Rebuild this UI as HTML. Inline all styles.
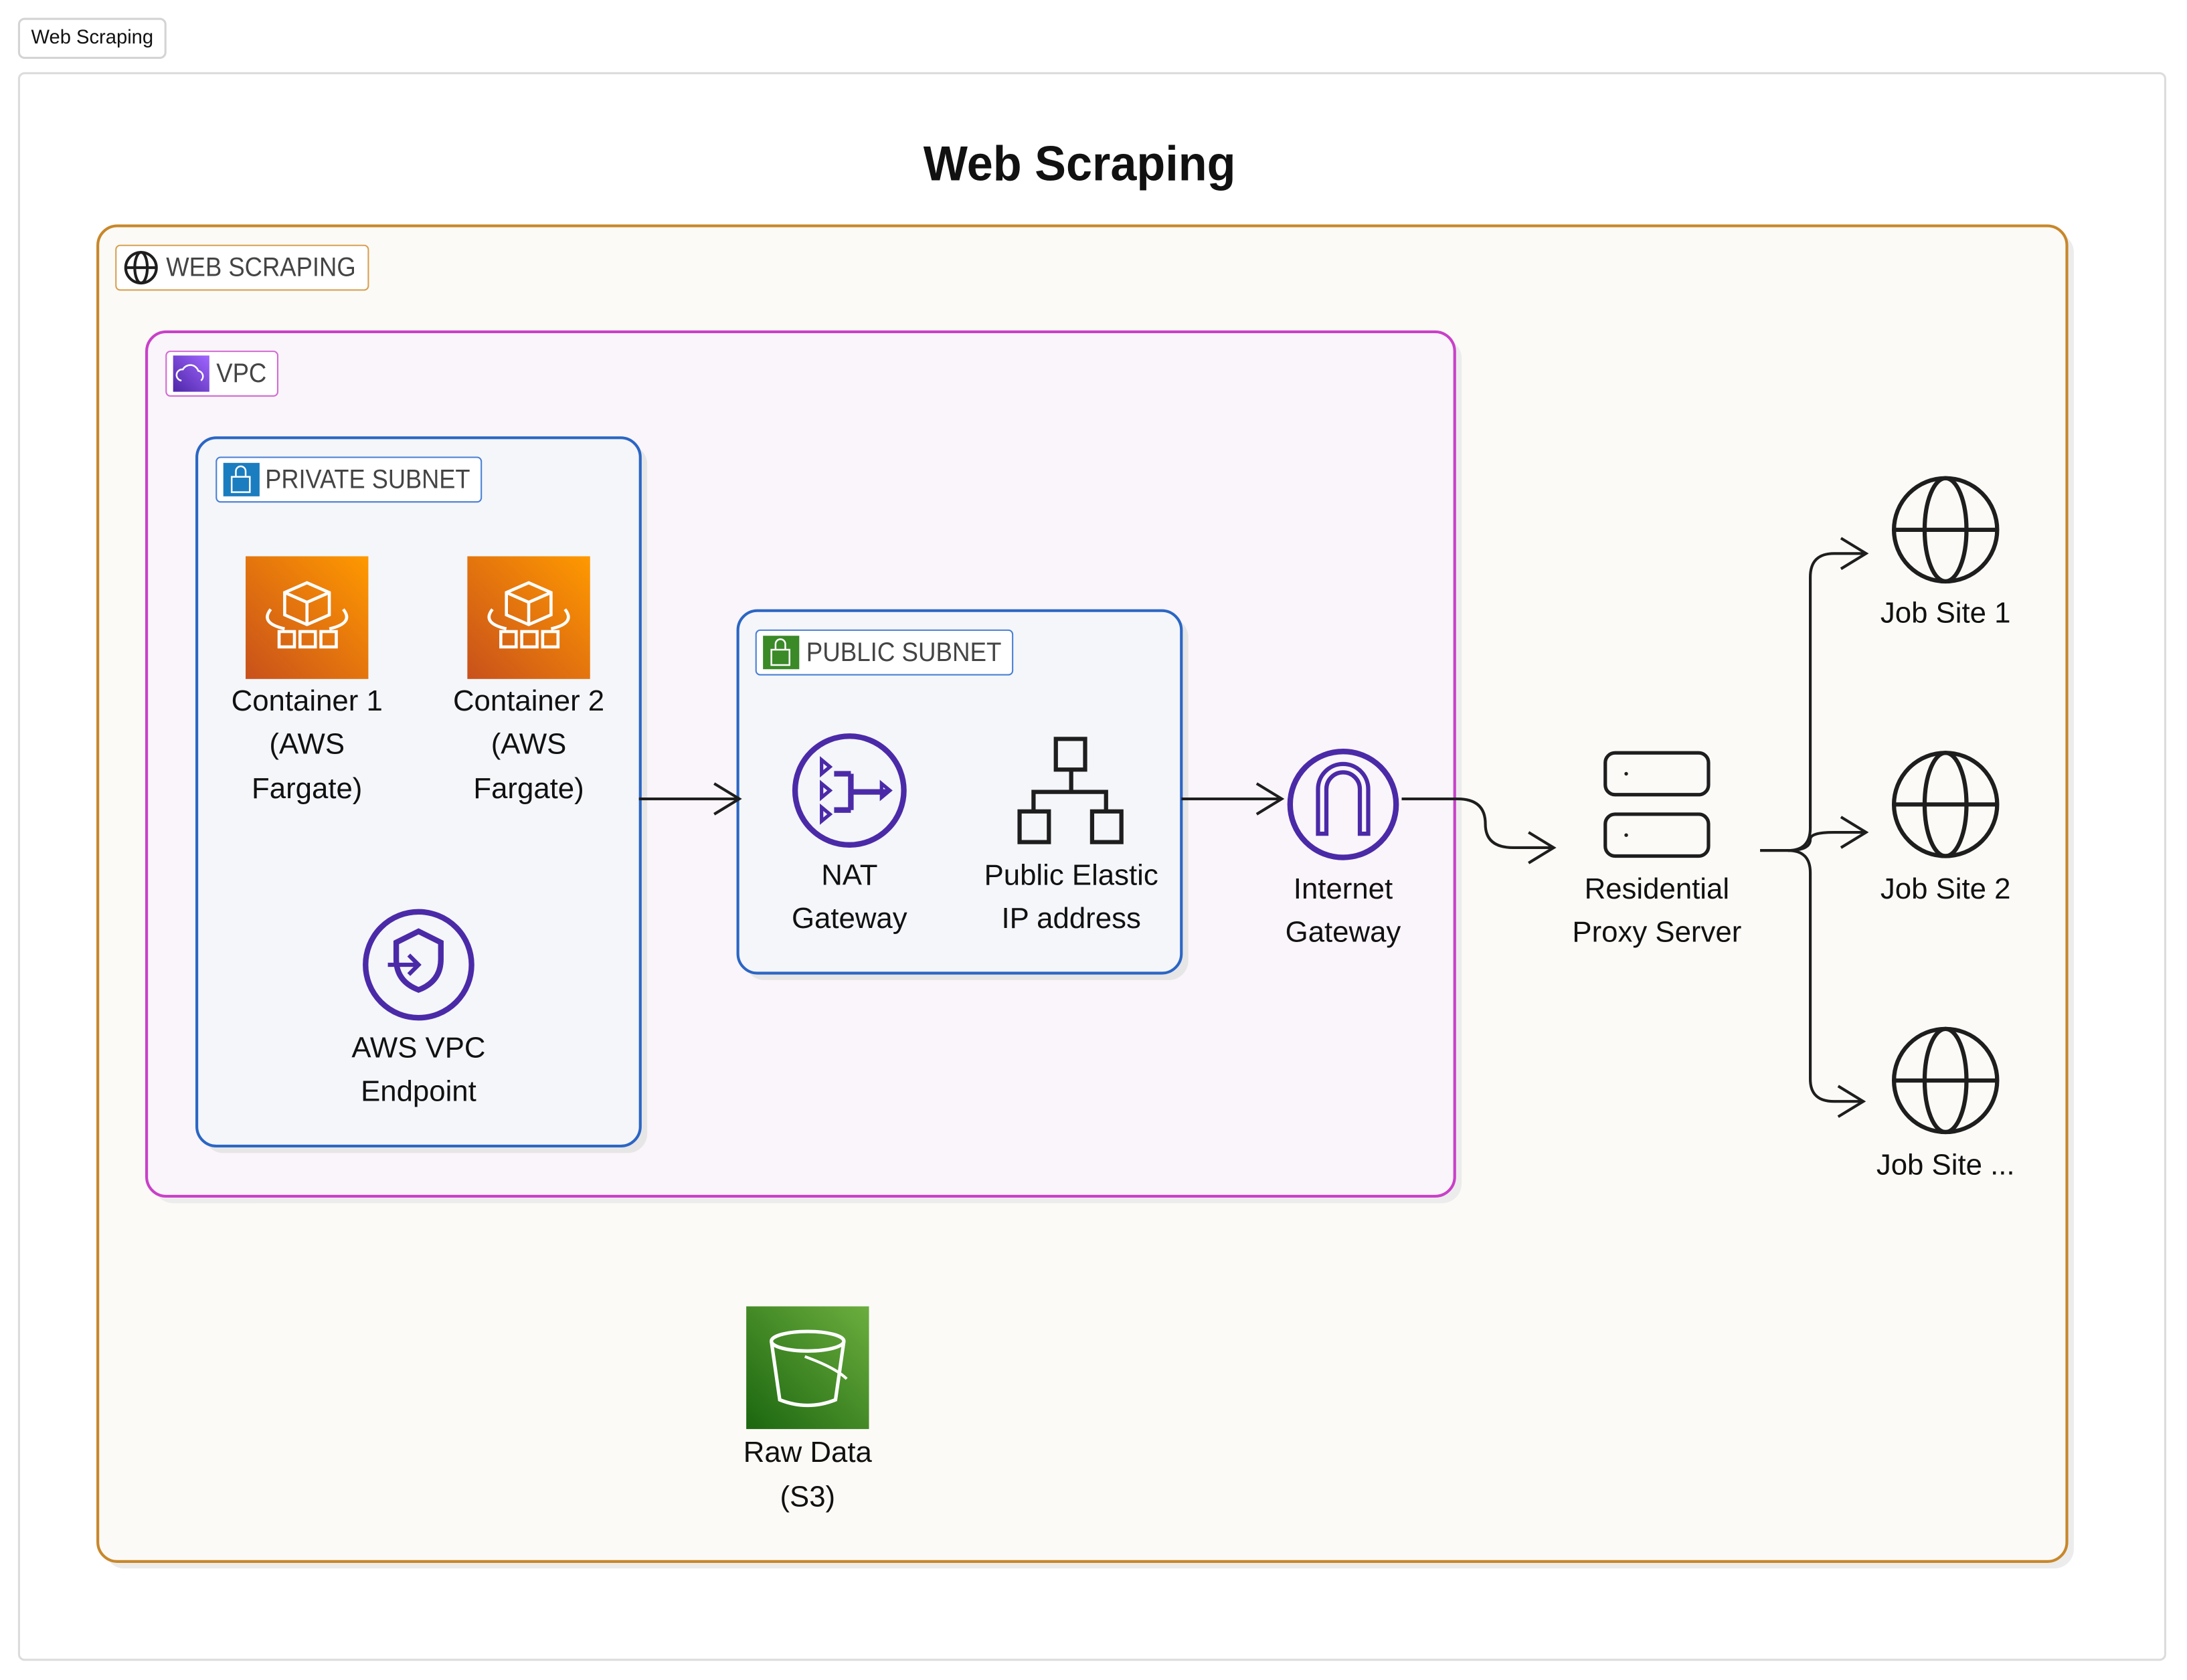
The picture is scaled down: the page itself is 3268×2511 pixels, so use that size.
<!DOCTYPE html>
<html><head><meta charset="utf-8"><style>
html,body{margin:0;padding:0;background:#fff;width:3268px;height:2511px;overflow:hidden}
svg{display:block}
text{font-family:"Liberation Sans",sans-serif}
</style></head><body>
<svg width="3268" height="2511" viewBox="0 0 1568 1205" xmlns="http://www.w3.org/2000/svg">
<defs>
<linearGradient id="og" x1="0" y1="1" x2="1" y2="0"><stop offset="0" stop-color="#c8511b"/><stop offset="1" stop-color="#ff9900"/></linearGradient>
<linearGradient id="gg" x1="0" y1="1" x2="1" y2="0"><stop offset="0" stop-color="#1b660f"/><stop offset="1" stop-color="#6cae3e"/></linearGradient>
<linearGradient id="pg" x1="0" y1="1" x2="1" y2="0"><stop offset="0" stop-color="#4d27a8"/><stop offset="1" stop-color="#a166ff"/></linearGradient>
<g id="globe" fill="none" stroke="#1e1e1e" stroke-width="3"><circle r="37"/><ellipse rx="15" ry="37"/><line x1="-37" y1="0" x2="37" y2="0"/></g>
<g id="cube" fill="none" stroke="#fff" stroke-width="2.2"><path d="M-16,-20 l16,-7 l16,7 v16 l-16,7 l-16,-7z M-16,-20 l16,7 l16,-7 M0,-13 v16"/><path d="M-26,-8 q-8,10 10,14 M26,-8 q8,10 -10,14"/><rect x="-20" y="8" width="11" height="11"/><rect x="-5" y="8" width="11" height="11"/><rect x="10" y="8" width="11" height="11"/></g>
</defs>
<rect x="13.5" y="13.5" width="105" height="28" rx="4" fill="#fff" stroke="#d4d4d4" stroke-width="1.5"/>
<text x="66" y="27.5" font-size="14" text-anchor="middle" dominant-baseline="middle" fill="#111">Web Scraping</text>
<rect x="13.5" y="52.5" width="1539" height="1138" rx="4" fill="#fff" stroke="#dcdcdc" stroke-width="1.5"/>
<text x="774" y="120" font-size="35" font-weight="bold" text-anchor="middle" dominant-baseline="middle" fill="#111" textLength="224" lengthAdjust="spacingAndGlyphs">Web Scraping</text>

<rect x="75" y="167" width="1412" height="958" rx="14" fill="#ececec"/>
<rect x="70" y="162" width="1412" height="958" rx="14" fill="#fbfaf6" stroke="#c8872a" stroke-width="2"/>
<rect x="83" y="176" width="181" height="32" rx="3" fill="#fff" stroke="#d9a052" stroke-width="1"/>
<g transform="translate(101,192)"><g fill="none" stroke="#1e1e1e" stroke-width="2"><circle r="11"/><ellipse rx="4.5" ry="11"/><line x1="-11" x2="11"/></g></g>
<text x="119" y="193" font-size="19" dominant-baseline="middle" fill="#444" textLength="136" lengthAdjust="spacingAndGlyphs">WEB SCRAPING</text>

<rect x="110" y="243" width="938" height="620" rx="14" fill="#ececec"/>
<rect x="105" y="238" width="938" height="620" rx="14" fill="#faf5fa" stroke="#c940c9" stroke-width="2"/>
<rect x="119" y="252" width="80" height="32" rx="3" fill="#fff" stroke="#d46ad4" stroke-width="1"/>
<rect x="124" y="255" width="26" height="26" fill="url(#pg)"/>
<path d="M130,273 a4,4 0 0 1 1,-8 a6,6 0 0 1 11,1 a4,4 0 0 1 2,7" fill="none" stroke="#fff" stroke-width="1.2"/>
<text x="155" y="269" font-size="19" dominant-baseline="middle" fill="#444" textLength="36" lengthAdjust="spacingAndGlyphs">VPC</text>

<rect x="146" y="319" width="318" height="508" rx="14" fill="#e6e6e6"/>
<rect x="141" y="314" width="318" height="508" rx="14" fill="#f4f6fa" stroke="#2b66c4" stroke-width="2"/>
<rect x="155" y="328" width="190" height="32" rx="3" fill="#fff" stroke="#4a7fd4" stroke-width="1"/>
<rect x="160" y="332" width="26" height="24" fill="#1a7dbf"/>
<g fill="none" stroke="#fff" stroke-width="1.2"><rect x="166" y="342" width="13" height="11"/><path d="M169,342 v-4 a3.5,3.5 0 0 1 7,0 v4"/></g>
<text x="190" y="345" font-size="19" dominant-baseline="middle" fill="#444" textLength="147" lengthAdjust="spacingAndGlyphs">PRIVATE SUBNET</text>

<rect x="176" y="399" width="88" height="88" fill="url(#og)"/>
<use href="#cube" transform="translate(220,445)"/>
<rect x="335" y="399" width="88" height="88" fill="url(#og)"/>
<use href="#cube" transform="translate(379,445)"/>

<g fill="none" stroke="#4b2aa8" stroke-width="4">
<circle cx="300" cy="692" r="38"/>
<path d="M284,676 l16,-8 l16,8 v12 q0,16 -16,22 q-16,-6 -16,-22z"/>
<path d="M278,692 h22 m-7,-7 l7,7 l-7,7" stroke-width="3"/>
</g>

<rect x="534" y="443" width="318" height="260" rx="14" fill="#e6e6e6"/>
<rect x="529" y="438" width="318" height="260" rx="14" fill="#f4f6fa" stroke="#2b66c4" stroke-width="2"/>
<rect x="542" y="452" width="184" height="32" rx="3" fill="#fff" stroke="#4a7fd4" stroke-width="1"/>
<rect x="547" y="456" width="26" height="24" fill="#3a8a28"/>
<g fill="none" stroke="#fff" stroke-width="1.2"><rect x="553" y="466" width="13" height="11"/><path d="M556,466 v-4 a3.5,3.5 0 0 1 7,0 v4"/></g>
<text x="578" y="469" font-size="19" dominant-baseline="middle" fill="#444" textLength="140" lengthAdjust="spacingAndGlyphs">PUBLIC SUBNET</text>

<g font-size="21" text-anchor="middle" dominant-baseline="middle" fill="#111">
<text x="220" y="504">Container 1</text><text x="220" y="535">(AWS</text><text x="220" y="567">Fargate)</text>
<text x="379" y="504">Container 2</text><text x="379" y="535">(AWS</text><text x="379" y="567">Fargate)</text>
<text x="300" y="753">AWS VPC</text><text x="300" y="784">Endpoint</text>
<text x="609" y="629">NAT</text><text x="609" y="660">Gateway</text>
<text x="768" y="629">Public Elastic</text><text x="768" y="660">IP address</text>
<text x="963" y="639">Internet</text><text x="963" y="670">Gateway</text>
<text x="1188" y="639">Residential</text><text x="1188" y="670">Proxy Server</text>
<text x="1395" y="441">Job Site 1</text><text x="1395" y="639">Job Site 2</text><text x="1395" y="837">Job Site ...</text>
<text x="579" y="1043">Raw Data</text><text x="579" y="1075">(S3)</text>
</g>

<g fill="none" stroke="#4b2aa8" stroke-width="4">
<circle cx="609" cy="567" r="39"/>
<path d="M610,555 v26 M610,568 h26 M598,555 h12 M598,581 h12"/>
<path d="M589,545 l6,5 l-6,5z M589,562 l6,5 l-6,5z M589,579 l6,5 l-6,5z M632,562 l6,5 l-6,5z" stroke-width="2.5"/>
</g>

<g fill="none" stroke="#1e1e1e" stroke-width="3">
<rect x="757" y="530" width="21" height="22"/><rect x="731" y="582" width="21" height="22"/><rect x="783" y="582" width="21" height="22"/>
<path d="M768,552 v16 M741,582 v-14 h52 v14"/>
</g>

<g fill="none" stroke="#4b2aa8" stroke-width="4">
<circle cx="963" cy="577" r="38"/>
<path d="M945,598 v-32 a18,18 0 0 1 36,0 v32 h-6 v-32 a12,12 0 0 0 -24,0 v32z" stroke-width="3"/>
</g>

<g fill="none" stroke="#1e1e1e" stroke-width="2">
<path d="M458,573 h72 M512,562 l18,11 l-18,11"/>
<path d="M847,573 h72 M901,562 l18,11 l-18,11"/>
<path d="M1005,573 h40 q20,0 20,18 q0,17 20,17 h28 M1096,597 l18,11 l-18,11"/>
<path d="M1262,610 h20 q16,0 16,-16 v-180 q0,-17 17,-17 h22 M1320,386 l18,11 l-18,11"/>
<path d="M1282,610 q16,0 16,16 v148 q0,16 17,16 h20 M1318,779 l18,11 l-18,11"/>
<path d="M1282,610 q16,0 16,-8 q0,-5 17,-5 h22 M1320,586 l18,11 l-18,11"/>
</g>

<g fill="none" stroke="#1e1e1e" stroke-width="2.5">
<rect x="1151" y="540" width="74" height="30" rx="7"/><rect x="1151" y="584" width="74" height="30" rx="7"/>
</g>
<circle cx="1166" cy="555" r="1.3" fill="#1e1e1e"/><circle cx="1166" cy="599" r="1.3" fill="#1e1e1e"/>

<use href="#globe" transform="translate(1395,380)"/>
<use href="#globe" transform="translate(1395,577)"/>
<use href="#globe" transform="translate(1395,775)"/>

<rect x="535" y="937" width="88" height="88" fill="url(#gg)"/>
<g fill="none" stroke="#fff" stroke-width="2.5">
<ellipse cx="579" cy="962" rx="26" ry="7"/>
<path d="M553,962 l6,42 q20,8 40,0 l6,-42"/>
<path d="M577,973 q22,8 30,16" stroke-width="2"/>
</g>
</svg>
</body></html>
